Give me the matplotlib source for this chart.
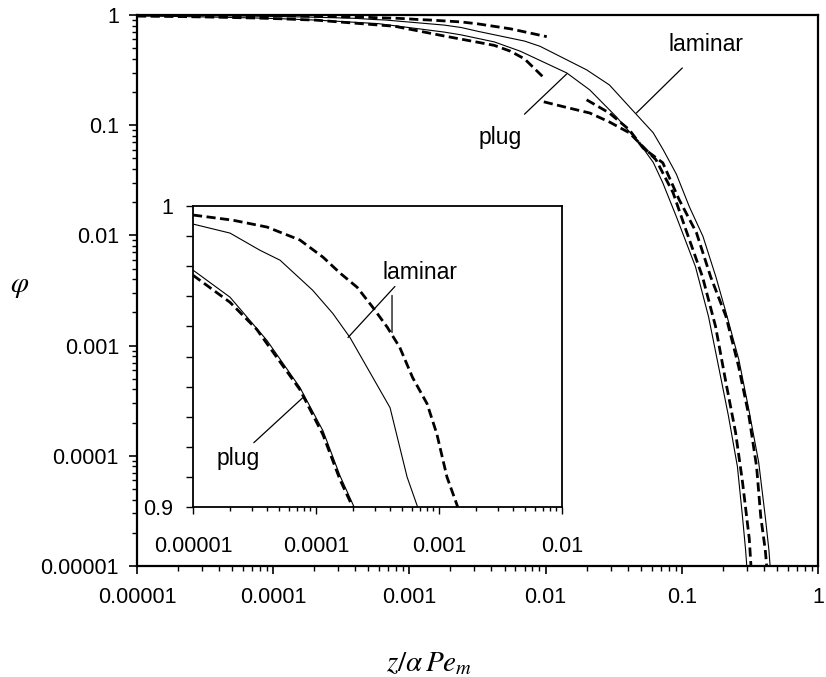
import matplotlib
matplotlib.use('Agg')
import matplotlib.pyplot as plt

plt.rcParams['font.family'] = ['Liberation Sans', 'DejaVu Sans']
plt.rcParams['mathtext.fontset'] = 'stix'

# solid curves (exact solutions)
lam_x = [1e-5, 2e-5, 3.5e-5, 5.1e-5, 9.4e-5, 1.37e-4, 1.89e-4, 2.9e-4, 4.0e-4, 5.5e-4, 6.7e-4,
         1.8e-3, 2.4e-3, 3.2e-3, 7.0e-3, 9.1e-3, 0.020, 0.0294, 0.0412, 0.0617, 0.073, 0.0912,
         0.1136, 0.143, 0.178, 0.211, 0.262, 0.311, 0.367, 0.41, 0.436, 0.445]
lam_y = [0.994, 0.991, 0.9853, 0.982, 0.972, 0.9643, 0.9563, 0.943, 0.933, 0.910, 0.90,
         0.81, 0.77, 0.71, 0.58, 0.52, 0.318, 0.232, 0.147, 0.0853, 0.0599, 0.036,
         0.0182, 9.8e-3, 4.2e-3, 2.0e-3, 7.5e-4, 2.6e-4, 8.7e-5, 2.8e-5, 1.4e-5, 1e-5]

plug_x = [1e-5, 2e-5, 4e-5, 7.4e-5, 1.14e-4, 1.57e-4, 2.04e-4, 2.6e-4, 5.9e-4, 1.8e-3, 2.4e-3,
          4.2e-3, 6.5e-3, 0.0143, 0.0211, 0.0331, 0.0487, 0.0617, 0.0725, 0.0912, 0.126, 0.157,
          0.186, 0.22, 0.256, 0.279, 0.294, 0.30]
plug_y = [0.9787, 0.9697, 0.9553, 0.9397, 0.9253, 0.9103, 0.90, 0.885, 0.835, 0.70, 0.66,
          0.57, 0.47, 0.298, 0.209, 0.119, 0.069, 0.046, 0.030, 0.0148, 5.2e-3, 1.84e-3,
          6.5e-4, 2.3e-4, 8.0e-5, 2.8e-5, 1.4e-5, 1e-5]

# dashed curves: short-time approximations
lam_short_x = [1e-5, 2.1e-5, 4e-5, 7.4e-5, 1.14e-4, 1.57e-4, 2.16e-4, 2.9e-4, 3.8e-4, 4.8e-4,
               6.1e-4, 8.0e-4, 9.6e-4, 1.16e-3, 1.42e-3, 2.4e-3, 3.2e-3, 5.5e-3, 0.0102]
lam_short_y = [0.997, 0.9953, 0.993, 0.9887, 0.983, 0.9777, 0.973, 0.9663, 0.9597, 0.953,
               0.943, 0.9343, 0.9243, 0.910, 0.90, 0.865, 0.83, 0.75, 0.636]

plug_short_x = [1e-5, 2e-5, 3.3e-5, 7.4e-5, 1.14e-4, 1.57e-4, 2.04e-4, 7.8e-4, 1.8e-3, 3.2e-3,
                4.2e-3, 5.5e-3, 7e-3, 9.7e-3]
plug_short_y = [0.977, 0.968, 0.959, 0.939, 0.924, 0.909, 0.899, 0.79, 0.645, 0.565,
                0.53, 0.47, 0.40, 0.27]

# dashed curves: long-time approximations
plug_long_x = [9.7e-3, 0.0136, 0.0211, 0.0294, 0.0412, 0.052, 0.0646, 0.0863, 0.107, 0.142,
               0.177, 0.211, 0.248, 0.279, 0.313, 0.322]
plug_long_y = [0.163, 0.147, 0.129, 0.107, 0.0853, 0.0637, 0.0486, 0.0244, 0.0113, 4.2e-3,
               1.49e-3, 4.6e-4, 1.64e-4, 5.8e-5, 1.76e-5, 1e-5]

lam_long_x = [0.020, 0.0294, 0.0412, 0.052, 0.0725, 0.0956, 0.128, 0.163, 0.211, 0.261,
              0.311, 0.354, 0.38, 0.41, 0.42]
lam_long_y = [0.17, 0.129, 0.0908, 0.062, 0.0456, 0.0211, 0.0106, 4.2e-3, 1.84e-3, 6.5e-4,
              2.3e-4, 8.0e-5, 2.8e-5, 1.4e-5, 1e-5]

main_ticks = [1e-5, 1e-4, 1e-3, 1e-2, 1e-1, 1]
main_labels = ['0.00001', '0.0001', '0.001', '0.01', '0.1', '1']
inset_xticks = [1e-5, 1e-4, 1e-3, 1e-2]
inset_xlabels = ['0.00001', '0.0001', '0.001', '0.01']
inset_yticks = [0.9, 1.0]
inset_ylabels = ['0.9', '1']

FS = 15.5     # tick labels
FA = 16.5     # curve labels
dash = (3.3, 1.6)

fig = plt.figure(figsize=(8.26, 6.77), dpi=100)
ax = fig.add_axes([137/826, 1-566/677, 681/826, 551/677])
ins = fig.add_axes([193/826, 1-507/677, 369/826, 301/677])


def draw(a, lw_s, lw_d):
    a.plot(lam_x, lam_y, color='black', lw=lw_s)
    a.plot(plug_x, plug_y, color='black', lw=lw_s)
    for xs, ys in [(lam_short_x, lam_short_y), (plug_short_x, plug_short_y),
                   (plug_long_x, plug_long_y), (lam_long_x, lam_long_y)]:
        a.plot(xs, ys, color='black', lw=lw_d, ls=(0, dash))


draw(ax, 0.8, 2.0)
ax.set_xscale('log')
ax.set_yscale('log')
ax.set_xlim(1e-5, 1)
ax.set_ylim(1e-5, 1)
ax.set_xticks(main_ticks, main_labels)
ax.set_yticks(main_ticks, main_labels)
ax.tick_params(which='major', direction='out', length=6, width=1.2, labelsize=FS)
ax.tick_params(which='minor', direction='out', length=3.5, width=1.0)
ax.tick_params(axis='x', pad=9)
ax.tick_params(axis='y', pad=7)
for s in ax.spines.values():
    s.set_linewidth(1.6)

ax.annotate('laminar', xy=(0.0464, 0.129), xytext=(0.15, 0.535), fontsize=FA,
            ha='center', va='center',
            arrowprops=dict(arrowstyle='-', lw=0.9, color='black', shrinkA=9, shrinkB=0))
ax.annotate('plug', xy=(0.0143, 0.292), xytext=(4.66e-3, 0.078), fontsize=FA,
            ha='center', va='center',
            arrowprops=dict(arrowstyle='-', lw=0.9, color='black', shrinkA=9, shrinkB=0))

draw(ins, 0.8, 2.0)
ins.set_xscale('log')
ins.set_xlim(1e-5, 1e-2)
ins.set_ylim(0.9, 1.0)
ins.set_xticks(inset_xticks, inset_xlabels)
ins.set_yticks(inset_yticks, inset_ylabels)
ins.set_yticks([0.9 + 0.01 * i for i in range(1, 10)], minor=True)
ins.tick_params(which='major', direction='out', length=5, width=1.0, labelsize=FS)
ins.tick_params(which='minor', direction='out', length=5, width=1.0)
ins.tick_params(axis='x', which='minor', length=3)
ins.tick_params(axis='x', pad=16)
ins.tick_params(axis='y', pad=9)
for s in ins.spines.values():
    s.set_linewidth(1.3)

ins.annotate('laminar', xy=(1.82e-4, 0.9563), xytext=(7.0e-4, 0.978), fontsize=FA,
             ha='center', va='center',
             arrowprops=dict(arrowstyle='-', lw=0.9, color='black',
                             relpos=(0.2, 0.0), shrinkA=0, shrinkB=0))
ins.annotate('', xy=(4.15e-4, 0.958), xytext=(4.15e-4, 0.9703),
             arrowprops=dict(arrowstyle='-', lw=0.9, color='black', shrinkA=0, shrinkB=0))
ins.annotate('plug', xy=(7.8e-5, 0.9363), xytext=(2.32e-5, 0.916), fontsize=FA,
             ha='center', va='center',
             arrowprops=dict(arrowstyle='-', lw=0.9, color='black',
                             relpos=(0.75, 1.0), shrinkA=2, shrinkB=0))

fig.text(20/826, 1-286/677, r'$\varphi$', fontsize=21, ha='center', va='center')
fig.text(429/826, 1-663/677, r'$z/\alpha\,Pe_m$', fontsize=21, ha='center', va='center')

plt.savefig('out.png', dpi=100)
